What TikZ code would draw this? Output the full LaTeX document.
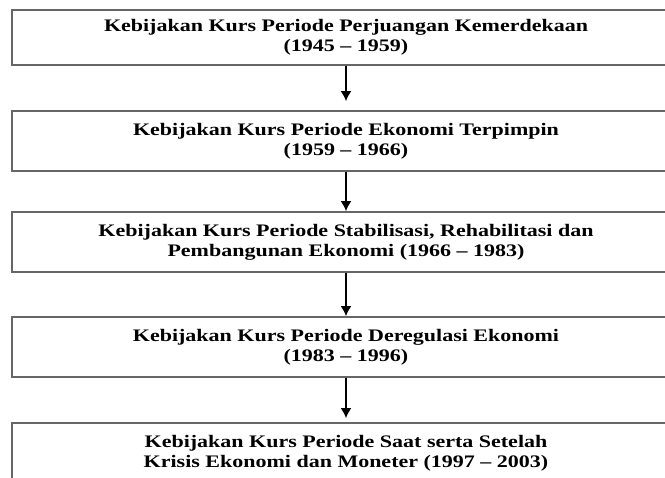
\documentclass[tikz,border=0pt]{standalone}
\usepackage{fontspec}
\setmainfont{Liberation Serif}[FakeStretch=1.25]
\usetikzlibrary{arrows.meta}

\tikzset{
  periode/.style={draw=black!60,line width=1.8pt,minimum width=668pt,minimum height=60pt,
    align=center,inner sep=0pt,font=\bfseries\fontsize{17.6}{20}\selectfont},
  panah/.style={line width=1.6pt,-{Latex[length=10pt,width=11pt]}}
}

\begin{document}
\begin{tikzpicture}[x=1pt,y=-1pt]
			\useasboundingbox (0,0) rectangle (665,478);
			\clip (0,0) rectangle (665,478);
			\node[periode,minimum height=55pt] (perjuangan) at (346,37.5) {Kebijakan Kurs Periode Perjuangan Kemerdekaan\\(1945 -- 1959)};
			\node[periode] (terpimpin) at (346,141) {Kebijakan Kurs Periode Ekonomi Terpimpin\\(1959 -- 1966)};
			\node[periode] (stabilisasi) at (346,242) {Kebijakan Kurs Periode Stabilisasi, Rehabilitasi dan\\Pembangunan Ekonomi (1966 -- 1983)};
			\node[periode] (deregulasi) at (346,347) {Kebijakan Kurs Periode Deregulasi Ekonomi\\(1983 -- 1996)};
			\node[periode] (krisis) at (346,453) {Kebijakan Kurs Periode Saat serta Setelah\\Krisis Ekonomi dan Moneter (1997 -- 2003)};
			\draw[panah,shorten >=9pt] (perjuangan) -- (terpimpin);
			\draw[panah] (terpimpin) -- (stabilisasi);
			\draw[panah] (stabilisasi) -- (deregulasi);
			\draw[panah,shorten >=4pt] (deregulasi) -- (krisis);
		\end{tikzpicture}
\end{document}
